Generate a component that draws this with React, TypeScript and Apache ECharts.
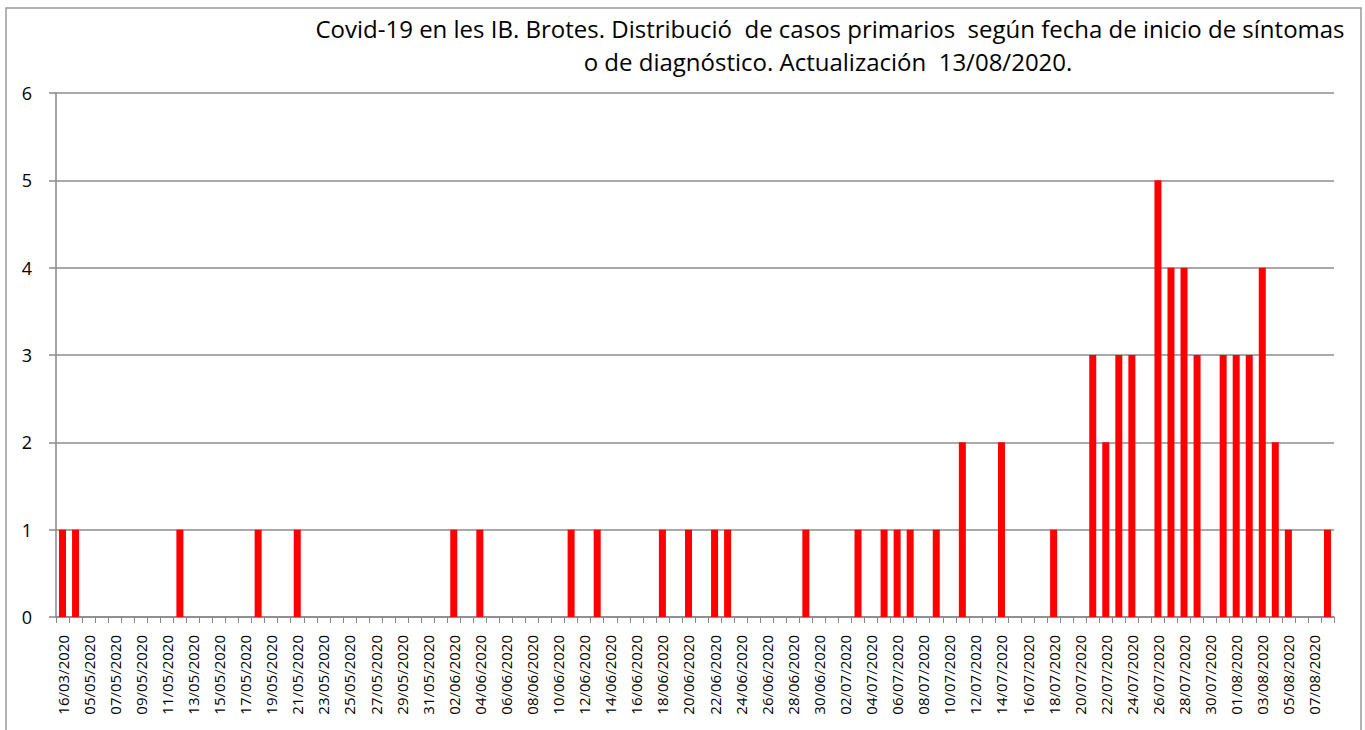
import React, { useEffect, useRef } from "react";
import * as echarts from "echarts";

const titleLine1 = "Covid-19 en les IB. Brotes. Distribució  de casos primarios  según fecha de inicio de síntomas";
const titleLine2 = "o de diagnóstico. Actualización  13/08/2020.";

const categories = [
  "16/03/2020", "04/05/2020",
  "05/05/2020", "06/05/2020", "07/05/2020", "08/05/2020", "09/05/2020", "10/05/2020", "11/05/2020", "12/05/2020",
  "13/05/2020", "14/05/2020", "15/05/2020", "16/05/2020", "17/05/2020", "18/05/2020", "19/05/2020", "20/05/2020",
  "21/05/2020", "22/05/2020", "23/05/2020", "24/05/2020", "25/05/2020", "26/05/2020", "27/05/2020", "28/05/2020",
  "29/05/2020", "30/05/2020", "31/05/2020",
  "01/06/2020", "02/06/2020", "03/06/2020", "04/06/2020", "05/06/2020", "06/06/2020", "07/06/2020", "08/06/2020",
  "09/06/2020", "10/06/2020", "11/06/2020", "12/06/2020", "13/06/2020", "14/06/2020", "15/06/2020", "16/06/2020",
  "17/06/2020", "18/06/2020", "19/06/2020", "20/06/2020", "21/06/2020", "22/06/2020", "23/06/2020", "24/06/2020",
  "25/06/2020", "26/06/2020", "27/06/2020", "28/06/2020", "29/06/2020", "30/06/2020",
  "01/07/2020", "02/07/2020", "03/07/2020", "04/07/2020", "05/07/2020", "06/07/2020", "07/07/2020", "08/07/2020",
  "09/07/2020", "10/07/2020", "11/07/2020", "12/07/2020", "13/07/2020", "14/07/2020", "15/07/2020", "16/07/2020",
  "17/07/2020", "18/07/2020", "19/07/2020", "20/07/2020", "21/07/2020", "22/07/2020", "23/07/2020", "24/07/2020",
  "25/07/2020", "26/07/2020", "27/07/2020", "28/07/2020", "29/07/2020", "30/07/2020", "31/07/2020",
  "01/08/2020", "02/08/2020", "03/08/2020", "04/08/2020", "05/08/2020", "06/08/2020", "07/08/2020", "08/08/2020",
];

const casos = [
  1, 1, 0, 0, 0, 0, 0, 0, 0, 1,
  0, 0, 0, 0, 0, 1, 0, 0, 1, 0,
  0, 0, 0, 0, 0, 0, 0, 0, 0, 0,
  1, 0, 1, 0, 0, 0, 0, 0, 0, 1,
  0, 1, 0, 0, 0, 0, 1, 0, 1, 0,
  1, 1, 0, 0, 0, 0, 0, 1, 0, 0,
  0, 1, 0, 1, 1, 1, 0, 1, 0, 2,
  0, 0, 2, 0, 0, 0, 1, 0, 0, 3,
  2, 3, 3, 0, 5, 4, 4, 3, 0, 3,
  3, 3, 4, 2, 1, 0, 0, 1,
];

const yTicks = [0, 1, 2, 3, 4, 5, 6];

const FONT = "'Open Sans', 'Noto Sans', sans-serif";

export default function App() {
  const ref = useRef<HTMLDivElement>(null);

  useEffect(() => {
    document.body.style.margin = "0";
    if (!ref.current) return;
    const chart = echarts.init(ref.current, null, { renderer: "svg" });
    chart.setOption({
      animation: false,
      backgroundColor: "#ffffff",
      textStyle: { fontFamily: FONT },
      grid: { left: 56, right: 31, top: 93, bottom: 113, containLabel: false },
      graphic: [
        {
          type: "rect",
          shape: { x: 6, y: 8, width: 1355, height: 740 },
          style: { fill: "none", stroke: "#9a9a9a", lineWidth: 1.5 },
          silent: true,
        },
        {
          type: "text",
          x: 830,
          y: 28,
          style: {
            text: titleLine1,
            fontFamily: FONT,
            fontSize: 24,
            fill: "#000",
            textAlign: "center",
            textVerticalAlign: "middle",
          },
        },
        {
          type: "text",
          x: 828,
          y: 61,
          style: {
            text: titleLine2,
            fontFamily: FONT,
            fontSize: 24,
            fill: "#000",
            textAlign: "center",
            textVerticalAlign: "middle",
          },
        },
      ],
      xAxis: {
        type: "category",
        data: categories,
        boundaryGap: true,
        axisLine: { show: true, lineStyle: { color: "#888888", width: 1.5 } },
        axisTick: { show: true, interval: 0, length: 6, alignWithLabel: false, lineStyle: { color: "#888888", width: 1 } },
        axisLabel: {
          interval: 1,
          rotate: 90,
          margin: 18,
          fontSize: 15,
          fontFamily: FONT,
          color: "#000",
        },
        splitLine: { show: false },
      },
      yAxis: {
        type: "value",
        min: yTicks[0],
        max: yTicks[yTicks.length - 1],
        interval: 1,
        axisLine: { show: true, lineStyle: { color: "#888888", width: 1.5 } },
        axisTick: { show: true, length: 7, lineStyle: { color: "#888888", width: 1.5 } },
        axisLabel: { margin: 24, fontSize: 18, fontFamily: FONT, color: "#000" },
        splitLine: { show: true, lineStyle: { color: "#8c8c8c", width: 1.5 } },
      },
      series: [
        {
          type: "bar",
          data: casos,
          barWidth: 7,
          itemStyle: { color: "#ff0000" },
        },
      ],
    });
    return () => chart.dispose();
  }, []);

  return <div ref={ref} style={{ width: 1365, height: 730 }} />;
}
